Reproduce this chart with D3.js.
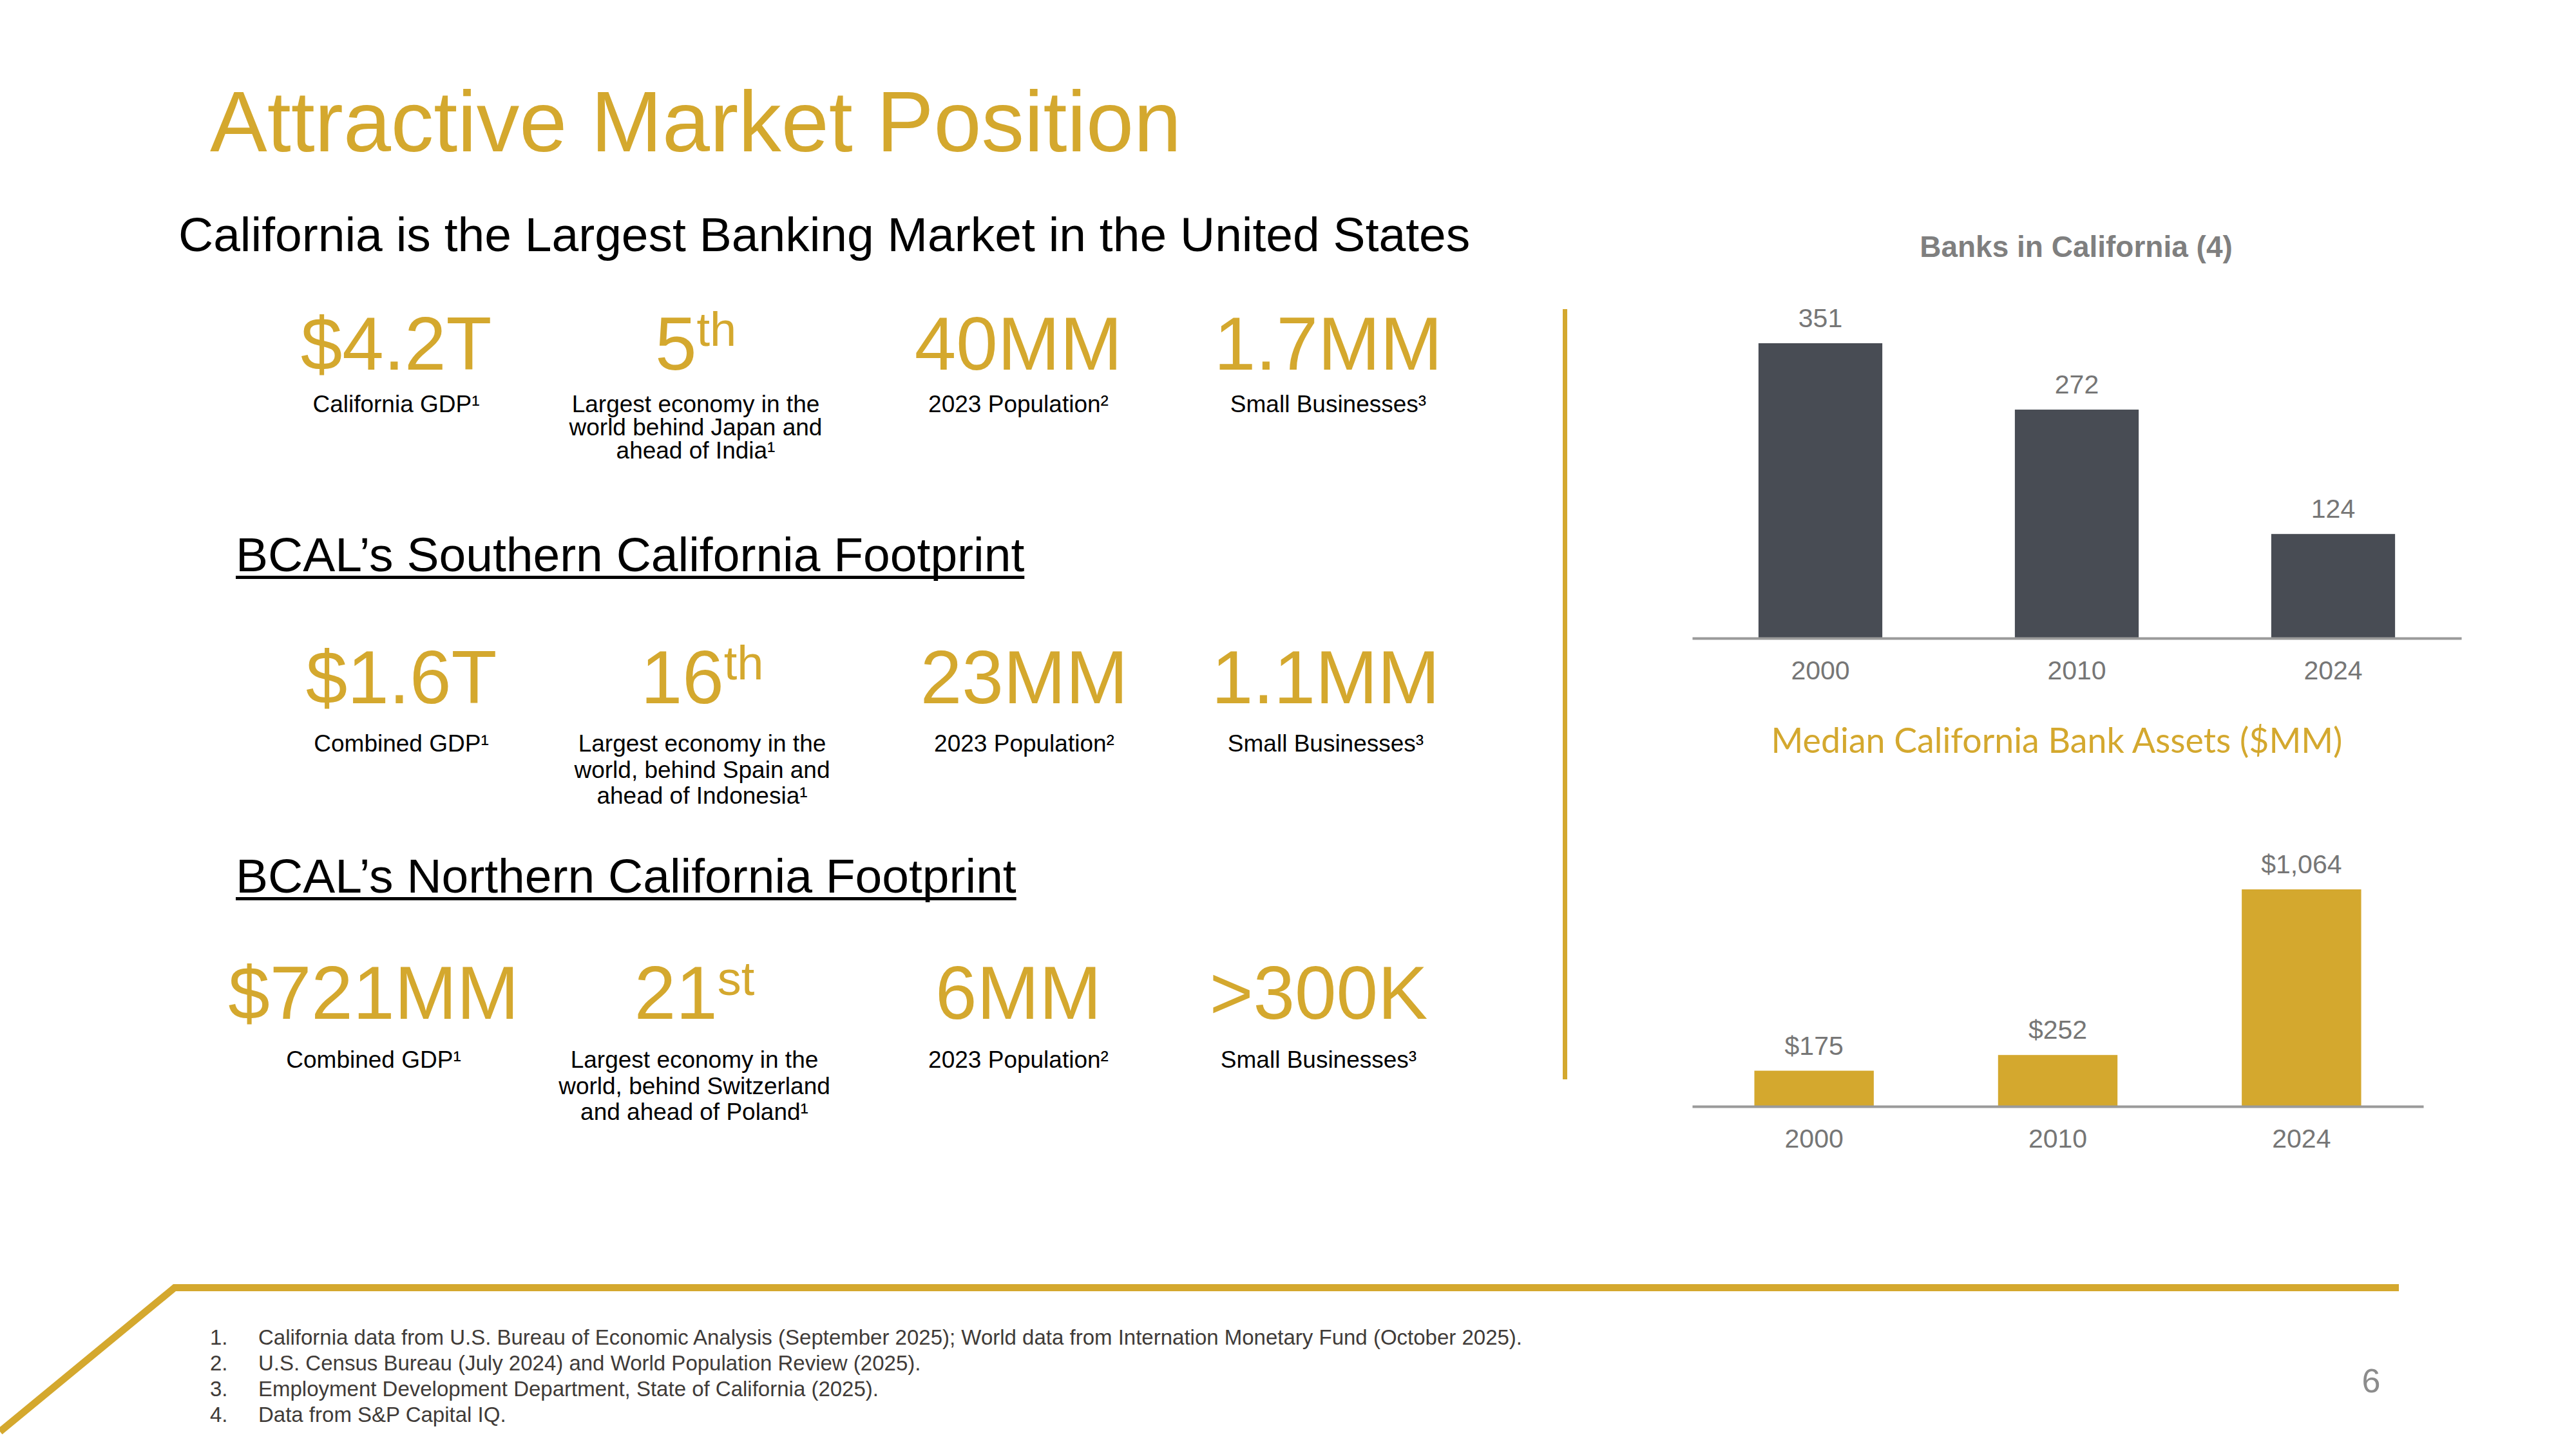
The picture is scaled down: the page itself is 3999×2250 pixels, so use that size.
<!DOCTYPE html>
<html>
<head>
<meta charset="utf-8">
<script src="https://cdn.jsdelivr.net/npm/d3@7"></script>
<style>
  body { margin: 0; background: #fff; }
  svg { display: block; }
</style>
</head>
<body>
<div id="slide"></div>
<script>
const w = 3999;
const h = 2250;
const gold = "#D4A82E";
const darkBar = "#484C54";
const labelGray = "#767676";
const arial = "'Liberation Sans', Arial, sans-serif";

// slide text
const pageTitle = "Attractive Market Position";
const subTitle = "California is the Largest Banking Market in the United States";
const footprintHeadings = ["BCAL’s Southern California Footprint", "BCAL’s Northern California Footprint"];

// the three stat rows: value, ordinal suffix, caption lines
const statValues = [
    ["$4.2T", "5", "40MM", "1.7MM"],
    ["$1.6T", "16", "23MM", "1.1MM"],
    ["$721MM", "21", "6MM", ">300K"]
];
const statSuffixes = [
    ["", "th", "", ""],
    ["", "th", "", ""],
    ["", "st", "", ""]
];
const statCaptions = [
    [["California GDP¹"], ["Largest economy in the", "world behind Japan and", "ahead of India¹"], ["2023 Population²"], ["Small Businesses³"]],
    [["Combined GDP¹"], ["Largest economy in the", "world, behind Spain and", "ahead of Indonesia¹"], ["2023 Population²"], ["Small Businesses³"]],
    [["Combined GDP¹"], ["Largest economy in the", "world, behind Switzerland", "and ahead of Poland¹"], ["2023 Population²"], ["Small Businesses³"]]
];

// charts
const years = ["2000", "2010", "2024"];
const bankCounts = [351, 272, 124];
const medianAssets = [175, 252, 1064];
const banksTitle = "Banks in California (4)";
const assetsTitle = "Median California Bank Assets ($MM)";

const footnotes = [
    "California data from U.S. Bureau of Economic Analysis (September 2025); World data from Internation Monetary Fund (October 2025).",
    "U.S. Census Bureau (July 2024) and World Population Review (2025).",
    "Employment Development Department, State of California (2025).",
    "Data from S&P Capital IQ."
];

// layout of the stat rows
const rowCenters = [
    [615, 1080, 1581, 2062],
    [623, 1090, 1590, 2058],
    [580, 1078, 1581, 2047]
];
const rowValueY = [574, 1092, 1582];
const rowCaptionY = [640, 1167, 1658];
const rowLineGap = [36, 40.5, 40.5];
const headingY = [887, 1386];

let svg = d3.select("#slide")
    .append("svg")
    .attr("width", w)
    .attr("height", h)
    .style("background", "#fff");

function drawHeader(){
    svg.append("text")
        .attr("x", 326)
        .attr("y", 235)
        .attr("font-family", arial)
        .attr("font-size", 133)
        .attr("fill", gold)
        .text(pageTitle);

    svg.append("text")
        .attr("x", 277)
        .attr("y", 390)
        .attr("font-family", arial)
        .attr("font-size", 75)
        .attr("fill", "#000")
        .text(subTitle);

    footprintHeadings.forEach((txt, i) => {
        const t = svg.append("text")
            .attr("x", 366)
            .attr("y", headingY[i])
            .attr("font-family", arial)
            .attr("font-size", 75)
            .attr("fill", "#000")
            .text(txt);
        const len = t.node().getComputedTextLength();
        svg.append("rect")
            .attr("x", 366)
            .attr("y", headingY[i] + 7)
            .attr("width", len)
            .attr("height", 5)
            .attr("fill", "#000");
    });
}

function drawStats(){
    statValues.forEach((row, r) => {
        const g = svg.append("g").attr("class", "stat-row");
        row.forEach((val, c) => {
            const cx = rowCenters[r][c];
            const t = g.append("text")
                .attr("x", cx)
                .attr("y", rowValueY[r])
                .attr("text-anchor", "middle")
                .attr("font-family", arial)
                .attr("font-size", 116)
                .attr("fill", gold);
            t.append("tspan").text(val);
            const suffix = statSuffixes[r][c];
            if(suffix){
                t.append("tspan")
                    .attr("font-size", 74)
                    .attr("dy", -37)
                    .text(suffix);
            }

            const lines = statCaptions[r][c];
            const cap = g.append("text")
                .attr("text-anchor", "middle")
                .attr("font-family", arial)
                .attr("font-size", 37)
                .attr("fill", "#000");
            lines.forEach((line, k) => {
                cap.append("tspan")
                    .attr("x", cx)
                    .attr("y", rowCaptionY[r] + k * rowLineGap[r])
                    .text(line);
            });
        });
    });

    // gold divider between the stats and the charts
    svg.append("rect")
        .attr("x", 2426)
        .attr("y", 480)
        .attr("width", 7)
        .attr("height", 1196)
        .attr("fill", gold);
}

function barChart(opts){
    const g = svg.append("g").attr("class", "chart");

    const x = d3.scaleBand()
        .domain(years)
        .range(opts.xRange)
        .paddingInner(opts.pad)
        .paddingOuter(opts.pad / 2);

    const y = d3.scaleLinear()
        .domain([0, opts.yMax])
        .range([opts.base, opts.base - opts.yMax * opts.pxPerUnit]);

    g.selectAll("rect.bar")
        .data(opts.values)
        .enter()
        .append("rect")
        .attr("class", "bar")
        .attr("x", (d, i) => x(years[i]))
        .attr("y", d => y(d))
        .attr("width", x.bandwidth())
        .attr("height", d => y(0) - y(d))
        .attr("fill", opts.color);

    g.selectAll("text.val")
        .data(opts.values)
        .enter()
        .append("text")
        .attr("class", "val")
        .attr("x", (d, i) => x(years[i]) + x.bandwidth() / 2)
        .attr("y", d => y(d) - 25)
        .attr("text-anchor", "middle")
        .attr("font-family", arial)
        .attr("font-size", 41)
        .attr("fill", labelGray)
        .text(opts.format);

    const axis = g.append("g")
        .attr("transform", "translate(0," + opts.base + ")")
        .call(d3.axisBottom(x).tickSize(0).tickSizeOuter(0).tickPadding(35));
    axis.select(".domain")
        .attr("stroke", "#9a9a9a")
        .attr("stroke-width", 4);
    axis.selectAll("text")
        .attr("font-family", arial)
        .attr("font-size", 41)
        .attr("fill", labelGray);
}

function drawCharts(){
    svg.append("text")
        .attr("x", 3223)
        .attr("y", 399)
        .attr("text-anchor", "middle")
        .attr("font-family", arial)
        .attr("font-weight", "bold")
        .attr("font-size", 46)
        .attr("fill", "#7f7f7f")
        .text(banksTitle);

    barChart({
        values: bankCounts,
        xRange: [2627, 3821],
        pad: 0.517,
        base: 991,
        yMax: 400,
        pxPerUnit: 1.305,
        color: darkBar,
        format: d => d
    });

    // calibri-like title, fitted to the width it takes in the slide
    const t = svg.append("text")
        .attr("x", 3193)
        .attr("y", 1169)
        .attr("text-anchor", "middle")
        .attr("font-family", "Lato, 'Open Sans', sans-serif")
        .attr("font-size", 60)
        .attr("fill", gold)
        .text(assetsTitle);
    const len = t.node().getComputedTextLength();
    t.attr("font-size", 60 * 887 / len);

    barChart({
        values: medianAssets,
        xRange: [2627, 3762],
        pad: 0.51,
        base: 1718,
        yMax: 1200,
        pxPerUnit: 0.3167,
        color: gold,
        format: d => "$" + d3.format(",")(d)
    });
}

function drawFooter(){
    svg.append("path")
        .attr("d", d3.line()([[0, 2223], [271, 1999.5], [3724, 1999.5]]))
        .attr("fill", "none")
        .attr("stroke", gold)
        .attr("stroke-width", 11)
        .attr("stroke-linejoin", "miter");

    const fg = svg.append("g")
        .attr("font-family", arial)
        .attr("font-size", 33)
        .attr("fill", "#403B38");
    footnotes.forEach((note, i) => {
        const yy = 2088 + i * 40;
        fg.append("text").attr("x", 326).attr("y", yy).text((i + 1) + ".");
        fg.append("text").attr("x", 401).attr("y", yy).text(note);
    });

    svg.append("text")
        .attr("x", 3681)
        .attr("y", 2162)
        .attr("text-anchor", "middle")
        .attr("font-family", arial)
        .attr("font-size", 52)
        .attr("fill", "#8c8c8c")
        .text("6");
}

drawHeader();
drawStats();
drawCharts();
drawFooter();
</script>
</body>
</html>
